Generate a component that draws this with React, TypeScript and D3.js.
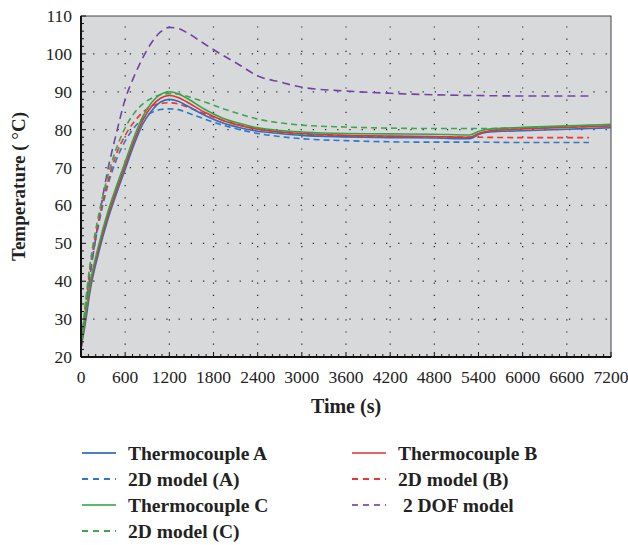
import React from 'react';
import * as d3 from 'd3';

// time samples (s)
const times = [0, 60, 120, 240, 360, 480, 600, 720, 840, 960, 1080, 1200, 1320, 1440, 1680, 1920, 2160, 2400, 2700, 3000, 3600, 4200, 4800, 5280, 5400, 5520, 5760, 6000, 6300, 6600, 6900, 7200];
const thermoA = [22.5, 29, 37, 47.5, 56, 63, 69.5, 76, 81.5, 85, 87.3, 88, 87.5, 86.3, 83.8, 81.8, 80.5, 79.6, 79, 78.5, 78.1, 77.9, 77.8, 77.6, 78.7, 79.3, 79.6, 79.7, 79.9, 80.1, 80.3, 80.5];
const thermoB = [22.5, 30, 38, 48.5, 57, 64, 70.5, 77, 82.5, 86.2, 88.3, 89, 88.5, 87.3, 84.6, 82.5, 81.1, 80.1, 79.4, 79, 78.5, 78.3, 78.2, 78, 79, 79.6, 80, 80.2, 80.4, 80.6, 80.8, 81];
const thermoC = [23, 31, 39, 49.5, 58, 65, 71.5, 78, 83.5, 87.2, 89.3, 90, 89.5, 88.3, 85.4, 83.1, 81.6, 80.5, 79.8, 79.4, 79, 78.9, 78.8, 78.6, 79.5, 80.1, 80.4, 80.6, 80.8, 81, 81.2, 81.4];

// model samples (s), end at 6900
const modelTimes = [0, 60, 120, 240, 360, 480, 600, 720, 840, 960, 1080, 1200, 1320, 1440, 1680, 1920, 2160, 2400, 2700, 3000, 3600, 4200, 4800, 5400, 6000, 6600, 6900];
const model2dA = [22, 33, 42, 55, 65, 72, 77, 80.5, 83, 84.5, 85.3, 85.5, 85.3, 84.5, 82.8, 81.2, 80, 79, 78.2, 77.6, 77.1, 76.8, 76.7, 76.7, 76.6, 76.6, 76.6];
const model2dB = [22, 33.5, 43, 56, 66, 73.5, 78.5, 82, 84.6, 86.2, 86.9, 87.1, 86.8, 86, 84.2, 82.5, 81.2, 80.2, 79.4, 78.9, 78.4, 78.2, 78.1, 78, 77.9, 77.9, 77.9];
const model2dC = [22.5, 34, 44, 57.5, 67.5, 75, 80.5, 84.3, 86.8, 88.3, 89.2, 89.5, 89.4, 88.8, 87.3, 85.6, 84.1, 82.8, 81.8, 81.2, 80.7, 80.4, 80.3, 80.3, 80.5, 80.7, 80.8];
const model2dof = [22, 32, 41, 56, 69, 79, 88, 94, 99, 103, 105.8, 107, 106.7, 105.6, 102.6, 99.7, 97, 94.2, 92.6, 91.2, 90.2, 89.6, 89.2, 89, 88.9, 88.9, 88.9];

const xTicks = d3.range(0, 7201, 600);
const yTicks = d3.range(20, 111, 10);

const series = [
  { name: 'Thermocouple A', t: times, v: thermoA, color: '#2f6fbd', legend: '#4a7fc0', dash: null },
  { name: 'Thermocouple B', t: times, v: thermoB, color: '#e8302c', legend: '#e86464', dash: null },
  { name: '2D model (A)', t: modelTimes, v: model2dA, color: '#2f78c4', legend: '#2f78c4', dash: '6,4' },
  { name: '2D model (B)', t: modelTimes, v: model2dB, color: '#ee3530', legend: '#ee3530', dash: '6,4' },
  { name: 'Thermocouple C', t: times, v: thermoC, color: '#33a448', legend: '#5cb86c', dash: null },
  { name: ' 2 DOF model', t: modelTimes, v: model2dof, color: '#7342a6', legend: '#8a62b8', dash: '8,5' },
  { name: '2D model (C)', t: modelTimes, v: model2dC, color: '#3aa852', legend: '#3aa852', dash: '6,4' },
];

const drawOrder = ['2 DOF model', '2D model (A)', '2D model (B)', '2D model (C)', 'Thermocouple A', 'Thermocouple B', 'Thermocouple C'];

const W = 628;
const H = 545;
const left = 81;
const right = 611;
const top = 16;
const bottom = 357;

export default function App() {
  const x = d3.scaleLinear().domain([0, 7200]).range([left, right]);
  const y = d3.scaleLinear().domain([20, 110]).range([bottom, top]);
  const serif = '"Liberation Serif", "DejaVu Serif", serif';

  const line = (t: number[], v: number[]) =>
    d3.line<number>()
      .x((d, i) => x(t[i]))
      .y(d => y(d))
      .curve(d3.curveMonotoneX)(v) || '';

  const xMinor = d3.range(0, 7201, 100);
  const yMinor = d3.range(20, 111, 2);

  const sorted = [...series].sort((a, b) => drawOrder.indexOf(a.name.trim()) - drawOrder.indexOf(b.name.trim()));

  return (
    <svg width={W} height={H} style={{ position: 'absolute', left: 0, top: 0, background: '#fff' }}>
      <rect x={left} y={top} width={right - left} height={bottom - top} fill="#d8d9db" stroke="#444" strokeWidth={1} />

      {/* dotted grid */}
      {xTicks.slice(1, -1).map(t => (
        <line key={'gx' + t} x1={x(t)} x2={x(t)} y1={bottom} y2={top} stroke="#222" strokeWidth={1.2} strokeDasharray="1.2,11" />
      ))}
      {yTicks.slice(1, -1).map(v => (
        <line key={'gy' + v} x1={left} x2={right} y1={y(v)} y2={y(v)} stroke="#222" strokeWidth={1.2} strokeDasharray="1.2,11" />
      ))}

      {/* series */}
      <g>
        {sorted.map(s => (
          <path key={s.name} d={line(s.t, s.v)} fill="none" stroke={s.color} strokeWidth={1.6}
            strokeDasharray={s.dash || undefined} />
        ))}
      </g>

      {/* axes */}
      {xMinor.map(t => (
        <line key={'xm' + t} x1={x(t)} x2={x(t)} y1={bottom} y2={bottom - (t % 600 === 0 ? 5 : 3)} stroke="#111" strokeWidth={1} />
      ))}
      {yMinor.map(v => (
        <line key={'ym' + v} x1={left} x2={left + (v % 10 === 0 ? 5 : 3)} y1={y(v)} y2={y(v)} stroke="#111" strokeWidth={1} />
      ))}
      <line x1={left} x2={left} y1={top} y2={bottom} stroke="#111" strokeWidth={2} />
      <line x1={left} x2={right} y1={bottom} y2={bottom} stroke="#111" strokeWidth={2} />

      <g fontFamily={serif} fontSize={17.5} fill="#222">
        {xTicks.map(t => (
          <text key={'xl' + t} x={x(t)} y={383} textAnchor="middle">{t}</text>
        ))}
        {yTicks.map(v => (
          <text key={'yl' + v} x={72} y={y(v) + 6} textAnchor="end">{v}</text>
        ))}
      </g>

      <text x={(left + right) / 2} y={413} textAnchor="middle" fontFamily={serif} fontSize={20} fontWeight="bold" fill="#222">Time (s)</text>
      <text transform={`translate(25,${(top + bottom) / 2}) rotate(-90)`} textAnchor="middle" fontFamily={serif} fontSize={19} fontWeight="bold" fill="#222" style={{ whiteSpace: 'pre' }}>
        Temperature ( <tspan fontWeight="normal">°</tspan>C)
      </text>

      {/* legend */}
      <g fontFamily={serif} fontSize={19.5} fontWeight="bold" fill="#222">
        {series.map((s, i) => {
          const col = i % 2;
          const row = Math.floor(i / 2);
          const lx = col === 0 ? 82 : 352;
          const ly = 453 + row * 26;
          return (
            <g key={'lg' + s.name}>
              <line x1={lx} x2={lx + 34} y1={ly} y2={ly} stroke={s.legend} strokeWidth={1.8}
                strokeDasharray={s.dash ? '6,5' : undefined} />
              <text x={lx + 46} y={ly + 6.5} style={{ whiteSpace: 'pre' }}>{s.name}</text>
            </g>
          );
        })}
      </g>
    </svg>
  );
}
